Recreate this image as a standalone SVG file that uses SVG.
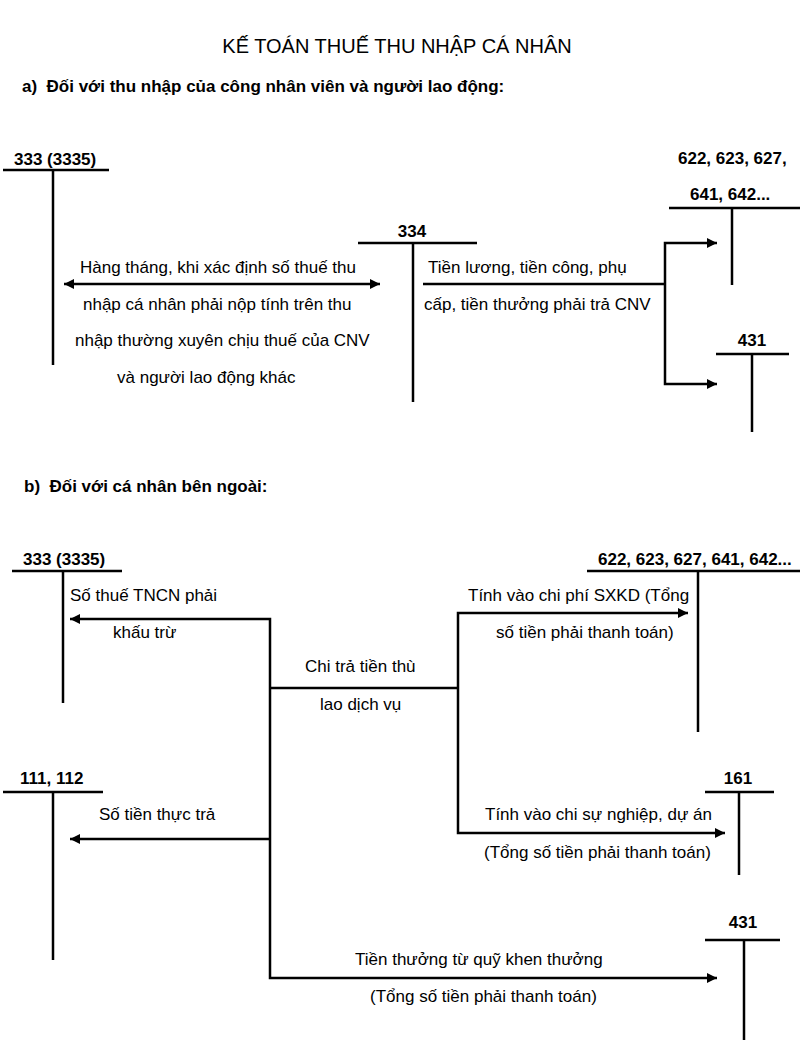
<svg xmlns="http://www.w3.org/2000/svg" width="800" height="1042" viewBox="0 0 800 1042">
<style>
text{font-family:"Liberation Sans",Arial,sans-serif;fill:#000}
.t{font-size:20px}
.h{font-size:17px;font-weight:bold}
.lb{font-size:17px;font-weight:bold}
.tx{font-size:17px}
.c{text-anchor:middle}
line,polyline{stroke:#000;stroke-width:2.5;fill:none}
</style>
<defs>
<marker id="ah" viewBox="0 0 10 10" refX="10" refY="5" markerWidth="5" markerHeight="4" orient="auto-start-reverse" markerUnits="strokeWidth">
<path d="M0,0 L10,5 L0,10 z" fill="#000"/>
</marker>
</defs>
<rect width="800" height="1042" fill="#fff"/>
<text class="t c" x="397" y="53">KẾ TOÁN THUẾ THU NHẬP CÁ NHÂN</text>
<text class="h" x="22" y="92" xml:space="preserve">a)  Đối với thu nhập của công nhân viên và người lao động:</text>
<text class="h" x="24" y="492" xml:space="preserve">b)  Đối với cá nhân bên ngoài:</text>

<g id="a333">
<text class="lb" x="14" y="165">333 (3335)</text>
<line x1="3" y1="170" x2="109" y2="170"/>
<line x1="53" y1="170" x2="53" y2="365"/>
</g>
<g id="a334">
<text class="lb c" x="412" y="237">334</text>
<line x1="358" y1="243" x2="477" y2="243"/>
<line x1="413" y1="243" x2="413" y2="402"/>
</g>
<g id="a622">
<text class="lb" x="678" y="164">622, 623, 627,</text>
<text class="lb" x="690" y="200">641, 642...</text>
<line x1="669" y1="208" x2="800" y2="208"/>
<line x1="732" y1="208" x2="732" y2="285"/>
</g>
<g id="a431">
<text class="lb c" x="752" y="346">431</text>
<line x1="716" y1="354" x2="789" y2="354"/>
<line x1="752" y1="354" x2="752" y2="432"/>
</g>

<g id="b333">
<text class="lb" x="23" y="565">333 (3335)</text>
<line x1="12" y1="571" x2="122" y2="571"/>
<line x1="63" y1="571" x2="63" y2="703"/>
</g>
<g id="b622">
<text class="lb" x="598" y="565">622, 623, 627, 641, 642...</text>
<line x1="587" y1="571" x2="800" y2="571"/>
<line x1="698" y1="571" x2="698" y2="732"/>
</g>
<g id="b111">
<text class="lb" x="20" y="784">111, 112</text>
<line x1="3" y1="792" x2="103" y2="792"/>
<line x1="53" y1="792" x2="53" y2="960"/>
</g>
<g id="b161">
<text class="lb c" x="738" y="784">161</text>
<line x1="705" y1="792" x2="774" y2="792"/>
<line x1="739" y1="792" x2="739" y2="875"/>
</g>
<g id="b431">
<text class="lb c" x="743" y="928">431</text>
<line x1="705" y1="940" x2="780" y2="940"/>
<line x1="744" y1="940" x2="744" y2="1040"/>
</g>

<g id="connectors">
<line x1="64" y1="284" x2="380" y2="284" marker-start="url(#ah)" marker-end="url(#ah)"/>
<line x1="423" y1="284" x2="665" y2="284"/>
<polyline points="717,243 665,243 665,384 717,384" marker-start="url(#ah)" marker-end="url(#ah)"/>

<polyline points="70,619 270,619 270,978 717,978" marker-start="url(#ah)" marker-end="url(#ah)"/>
<line x1="270" y1="839" x2="70" y2="839" marker-end="url(#ah)"/>
<line x1="270" y1="688" x2="458" y2="688"/>
<polyline points="688,613 458,613 458,833 725,833" marker-start="url(#ah)" marker-end="url(#ah)"/>
</g>

<g id="labels">
<text class="tx" x="80" y="273">Hàng tháng, khi xác định số thuế thu</text>
<text class="tx" x="83" y="310">nhập cá nhân phải nộp tính trên thu</text>
<text class="tx" x="75" y="346">nhập thường xuyên chịu thuế của CNV</text>
<text class="tx" x="117" y="383">và người lao động khác</text>
<text class="tx" x="428" y="273">Tiền lương, tiền công, phụ</text>
<text class="tx" x="424" y="310">cấp, tiền thưởng phải trả CNV</text>

<text class="tx" x="70" y="601">Số thuế TNCN phải</text>
<text class="tx" x="113" y="638">khấu trừ</text>
<text class="tx" x="305" y="672">Chi trả tiền thù</text>
<text class="tx" x="320" y="710">lao dịch vụ</text>
<text class="tx" x="468" y="601">Tính vào chi phí SXKD (Tổng</text>
<text class="tx" x="496" y="638">số tiền phải thanh toán)</text>
<text class="tx" x="99" y="820">Số tiền thực trả</text>
<text class="tx" x="485" y="820">Tính vào chi sự nghiệp, dự án</text>
<text class="tx" x="484" y="858">(Tổng số tiền phải thanh toán)</text>
<text class="tx" x="355" y="965">Tiền thưởng từ quỹ khen thưởng</text>
<text class="tx" x="370" y="1002">(Tổng số tiền phải thanh toán)</text>
</g>
</svg>
